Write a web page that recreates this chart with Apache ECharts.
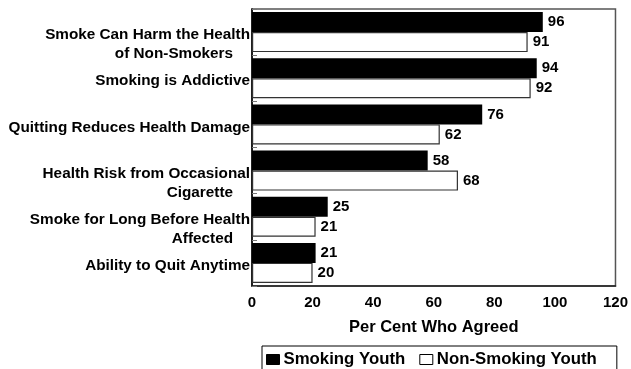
<!DOCTYPE html>
<html>
<head>
<meta charset="utf-8">
<script src="https://cdn.jsdelivr.net/npm/echarts@6/dist/echarts.min.js"></script>
<style>
  html, body { margin: 0; padding: 0; background: #fff; }
  #chart { width: 631px; height: 369px; }
</style>
</head>
<body>
<div id="chart"></div>
<script>
// Survey statements (top to bottom); two-line statements use a second line.
var categories = [
  ['Smoke Can Harm the Health', 'of Non-Smokers'],
  ['Smoking is Addictive'],
  ['Quitting Reduces Health Damage'],
  ['Health Risk from Occasional', 'Cigarette'],
  ['Smoke for Long Before Health', 'Affected'],
  ['Ability to Quit Anytime']
];
var seriesNames = ['Smoking Youth', 'Non-Smoking Youth'];
var smokingYouth = [96, 94, 76, 58, 25, 21];
var nonSmokingYouth = [91, 92, 62, 68, 21, 20];
var xTicks = { min: 0, max: 120, interval: 20 };
var xAxisTitle = 'Per Cent Who Agreed';

var FONT = '"Liberation Sans", Arial, sans-serif';
var catKeys = categories.map(function (c) { return c.join('|'); });

var chart = echarts.init(document.getElementById('chart'), null, { renderer: 'canvas' });

var valueLabel = {
  show: true,
  position: 'right',
  distance: 5,
  color: '#000',
  fontFamily: FONT,
  fontWeight: 'bold',
  fontSize: 15
};

var labelText = { fontFamily: FONT, fontWeight: 'bold', fontSize: 15.3, color: '#000', lineHeight: 19, align: 'right' };

chart.setOption({
  animation: false,
  backgroundColor: '#fff',
  grid: {
    left: 252, right: 15, top: 9, bottom: 83,
    show: true,
    borderColor: '#555',
    borderWidth: 1.5,
    containLabel: false
  },
  legend: {
    data: [
      { name: seriesNames[0], itemStyle: { color: '#000', borderColor: '#000', borderWidth: 1 } },
      { name: seriesNames[1], itemStyle: { color: '#fff', borderColor: '#000', borderWidth: 1 } }
    ],
    left: 262,
    top: 346,
    orient: 'horizontal',
    icon: 'rect',
    itemWidth: 13,
    itemHeight: 10,
    itemGap: 14,
    padding: [5, 20, 14, 4],
    borderColor: '#000',
    borderWidth: 1,
    textStyle: {
      color: '#000', fontFamily: FONT, fontWeight: 'bold', fontSize: 16.8, padding: [0, 0, 0, -1]
    }
  },
  xAxis: {
    type: 'value',
    min: xTicks.min,
    max: xTicks.max,
    interval: xTicks.interval,
    name: xAxisTitle,
    nameLocation: 'middle',
    nameGap: 33,
    nameTextStyle: { color: '#000', fontFamily: FONT, fontWeight: 'bold', fontSize: 16.5 },
    axisLine: { show: true, lineStyle: { color: '#222', width: 1.5 } },
    axisTick: { show: false },
    splitLine: { show: false },
    axisLabel: { color: '#000', fontFamily: FONT, fontWeight: 'bold', fontSize: 15, margin: 9 }
  },
  yAxis: {
    type: 'category',
    inverse: true,
    data: catKeys,
    axisLine: { show: true, lineStyle: { color: '#000', width: 1.5 } },
    axisTick: { show: true, inside: true, length: 5, lineStyle: { color: '#777' } },
    splitLine: { show: false },
    axisLabel: {
      margin: 2,
      color: '#000',
      fontFamily: FONT,
      fontWeight: 'bold',
      fontSize: 15.3,
      lineHeight: 19,
      formatter: function (v) {
        var parts = v.split('|');
        // a spacer row above the text puts the first line just below the category centre
        if (parts.length === 1) return '{g1|\u00a0}\n{t|' + parts[0] + '}';
        return '{g2|\u00a0}\n{t|' + parts[0] + '}\n{t|' + parts[1] + '\u00a0\u00a0\u00a0\u00a0}';
      },
      rich: {
        g1: { fontSize: 4, lineHeight: 6, height: 6 },
        g2: { fontSize: 4, lineHeight: 25, height: 25 },
        t: labelText
      }
    }
  },
  series: [
    {
      name: seriesNames[0],
      type: 'bar',
      data: smokingYouth,
      barWidth: 20,
      barGap: '0%',
      itemStyle: { color: '#000', borderColor: '#000', borderWidth: 0 },
      label: valueLabel
    },
    {
      name: seriesNames[1],
      type: 'bar',
      data: nonSmokingYouth,
      barWidth: 20,
      barGap: '0%',
      itemStyle: { color: '#fff', borderColor: '#333', borderWidth: 1.2 },
      label: valueLabel
    }
  ]
});
</script>
</body>
</html>
